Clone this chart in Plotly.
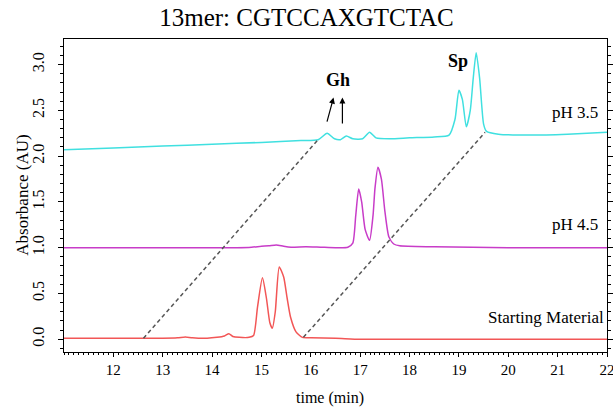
import plotly.graph_objects as go

# ---- data ----
sm_t = [11.0, 12.0, 12.6, 13.0, 13.3, 13.46, 13.6, 13.9, 14.1, 14.25, 14.34, 14.42, 14.55, 14.75, 14.84,
        14.92, 15.02, 15.1, 15.17, 15.22, 15.28, 15.36, 15.45, 15.52, 15.59, 15.7, 15.83, 16.0, 16.5, 17.0, 18.0, 20.0, 22.0]
sm_a = [0.01, 0.01, 0.01, 0.01, 0.015, 0.025, 0.015, 0.01, 0.02, 0.035, 0.06, 0.03, 0.02, 0.02, 0.04,
        0.35, 0.67, 0.45, 0.18, 0.12, 0.3, 0.79, 0.68, 0.45, 0.24, 0.08, 0.02, 0.015, 0.01, 0.0, 0.0, 0.0, 0.0]

ph45_t = [11.0, 13.0, 14.5, 14.8, 15.0, 15.15, 15.3, 15.45, 15.6, 15.9, 16.2, 16.5, 16.75, 16.85, 16.91,
          16.97, 17.03, 17.1, 17.19, 17.26, 17.3, 17.36, 17.43, 17.5, 17.58, 17.68, 17.8, 18.5, 20.0, 22.0]
ph45_a = [1.0, 1.0, 1.0, 1.005, 1.015, 1.02, 1.03, 1.015, 1.005, 1.01, 1.005, 1.0, 1.005, 1.05, 1.35,
          1.64, 1.5, 1.2, 1.08, 1.35, 1.65, 1.88, 1.75, 1.4, 1.12, 1.04, 1.02, 1.01, 1.0, 1.0]

ph35_t = [11.0, 12.0, 13.0, 14.0, 15.0, 15.8, 16.15, 16.33, 16.48, 16.6, 16.72, 16.85, 17.05, 17.19, 17.32,
          17.6, 18.0, 18.5, 18.8, 18.92, 19.0, 19.07, 19.15, 19.23, 19.29, 19.35, 19.42, 19.5, 19.56, 19.8, 20.5, 21.2, 22.0]
ph35_a = [2.07, 2.09, 2.11, 2.13, 2.15, 2.17, 2.18, 2.25, 2.19, 2.18, 2.22, 2.19, 2.19, 2.26, 2.2,
          2.19, 2.2, 2.21, 2.23, 2.4, 2.72, 2.62, 2.32, 2.5, 2.85, 3.13, 2.85, 2.35, 2.27, 2.24, 2.23, 2.24, 2.26]

guide1_t = [12.61, 16.13]
guide1_a = [0.01, 2.17]
guide2_t = [15.85, 19.53]
guide2_a = [0.02, 2.26]

y_ticks = [0.0, 0.5, 1.0, 1.5, 2.0, 2.5, 3.0]
x_ticks = [12, 13, 14, 15, 16, 17, 18, 19, 20, 21, 22]

FONT = "Liberation Serif"

fig = go.Figure()
for t, a, c in [(sm_t, sm_a, "#f25656"), (ph45_t, ph45_a, "#c83cc8"), (ph35_t, ph35_a, "#40e0e0")]:
    fig.add_trace(go.Scatter(x=t, y=a, mode="lines", line=dict(color=c, width=1.5, shape="spline", smoothing=0.6),
                             showlegend=False, hoverinfo="skip"))
for t, a in [(guide1_t, guide1_a), (guide2_t, guide2_a)]:
    fig.add_trace(go.Scatter(x=t, y=a, mode="lines", line=dict(color="#555555", width=1.5, dash="4px,3px"),
                             showlegend=False, hoverinfo="skip"))

# labels
fig.add_annotation(x=21.85, y=2.48, text="pH 3.5", showarrow=False, xanchor="right", font=dict(family=FONT, size=17, color="black"))
fig.add_annotation(x=21.85, y=1.25, text="pH 4.5", showarrow=False, xanchor="right", font=dict(family=FONT, size=17, color="black"))
fig.add_annotation(x=21.97, y=0.24, text="Starting Material", showarrow=False, xanchor="right", font=dict(family=FONT, size=17, color="black"))
fig.add_annotation(x=16.56, y=2.83, text="<b>Gh</b>", showarrow=False, font=dict(family=FONT, size=18, color="black"))
fig.add_annotation(x=18.99, y=3.04, text="<b>Sp</b>", showarrow=False, font=dict(family=FONT, size=18, color="black"))
# arrows
for (hx, hy, tx, ty) in [(16.46, 2.64, 16.32, 2.36), (16.64, 2.64, 16.64, 2.34)]:
    fig.add_annotation(x=hx, y=hy, ax=tx, ay=ty, xref="x", yref="y", axref="x", ayref="y", text="",
                       showarrow=True, arrowhead=2, arrowsize=1, arrowwidth=1.2, arrowcolor="black")
# axis titles
fig.add_annotation(x=0.49, y=-0.147, xref="paper", yref="paper", text="time (min)", showarrow=False,
                   xanchor="center", yanchor="middle", font=dict(family=FONT, size=16, color="black"))
fig.add_annotation(x=-0.077, y=0.5, xref="paper", yref="paper", text="Absorbance (AU)", showarrow=False,
                   textangle=-90, xanchor="center", yanchor="middle", font=dict(family=FONT, size=17, color="black"))

fig.update_layout(
    width=613, height=409,
    margin=dict(l=64, r=6, t=39, b=57, autoexpand=False),
    paper_bgcolor="white", plot_bgcolor="white",
    title=dict(text="13mer: CGTCCAXGTCTAC", x=0.5, xanchor="center", y=0.958, yanchor="middle", yref="container",
               font=dict(family=FONT, size=25, color="black")),
    font=dict(family=FONT, color="black"),
)
fig.update_xaxes(range=[11, 22], tickvals=x_ticks, ticks="outside", ticklen=4, tickcolor="black",
                 showline=True, linecolor="black", linewidth=1, mirror=True, showgrid=False, zeroline=False,
                 ticklabeloverflow="allow",
                 tickfont=dict(family=FONT, size=15, color="black"),
                 minor=dict(dtick=0.1, tick0=11, ticks="outside", ticklen=2, tickcolor="black", showgrid=False))
fig.update_yaxes(range=[-0.14, 3.28], tickvals=y_ticks, tickformat=".1f", tickangle=-90, ticks="outside", ticklen=5,
                 tickcolor="black", showline=True, linecolor="black", linewidth=1, mirror="ticks",
                 showgrid=False, zeroline=False, ticklabelstandoff=8,
                 tickfont=dict(family=FONT, size=16, color="black"),
                 minor=dict(dtick=0.1, tick0=0, ticks="outside", ticklen=3, tickcolor="black", showgrid=False))

fig.write_html("out.html", config={"displayModeBar": False},
               post_script="document.body.style.margin='0';document.body.style.overflow='hidden';")
